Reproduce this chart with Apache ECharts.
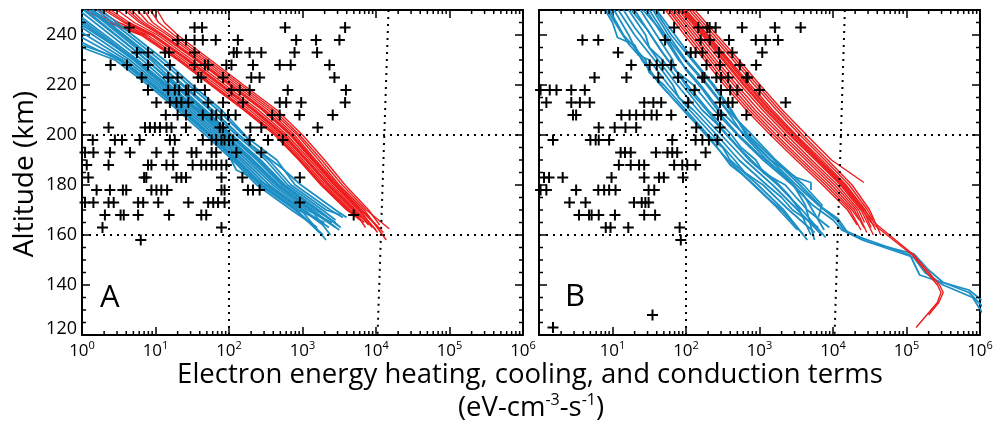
<!DOCTYPE html>
<html><head><meta charset="utf-8">
<script src="https://cdn.jsdelivr.net/npm/echarts@6/dist/echarts.min.js"></script>
<style>html,body{margin:0;padding:0;background:#fff}#c{width:1008px;height:425px}</style>
</head><body><div id="c"></div>
<script>
// ---------- tick values ----------
const altTicks = [120,140,160,180,200,220,240];
const altMinorTicks = [125,130,135,145,150,155,165,170,175,185,190,195,205,210,215,225,230,235,245];
const decadeTicks = [1,10,100,1000,10000,100000,1000000];
const logMinorTicks = [2,3,4,5,6,7,8,9,20,30,40,50,60,70,80,90,200,300,400,500,600,700,800,900,
  2e3,3e3,4e3,5e3,6e3,7e3,8e3,9e3,2e4,3e4,4e4,5e4,6e4,7e4,8e4,9e4,2e5,3e5,4e5,5e5,6e5,7e5,8e5,9e5];

// ---------- panel A : crosses (rows of altitude, x values) ----------
const crossAltsA = [243,238,233,228,223,218,213,208,203,198,193,188,183,178,173,168,163,158];
const crossXA = [
 [4.4,34,43,580,3800],
 [20,26,34,44,66,132,820,1530,3180],
 [5.6,7.9,13.5,15.3,34,116,128,191,275,780,1580],
 [2.45,4.1,7.9,15.7,34,47,52,92,108,212,490,690,2330],
 [6.5,14.9,20,38,42,83,201,261,2720],
 [7.9,14.9,18.3,21,26,28,34,47,108,140,191,630,3900],
 [10.3,15.7,19.3,22.5,28,52,83,155,490,600,960,3800],
 [13.8,20,26,44,58,67,79,97,123,387,490,910,2580],
 [2.3,7.2,8.4,9.8,11.5,14.1,16.5,26,75,83,195,275,1610],
 [1.4,2.8,3.5,6.1,15.7,18.3,44,58,67,79,87,100,113,191,340,540],
 [1.1,1.43,2.4,4.5,10.3,17.4,31,36,58,67,126,275],
 [1.16,2.3,7.9,8.8,14.1,17.4,32,42,49,58,67,79,92],
 [1.22,7.0,7.5,19.3,22.5,26,79,152,920],
 [1.58,2.4,3.6,4.0,8.8,10.3,12,14.4,79,87,181,212,261],
 [1.1,1.43,2.3,2.7,5.8,6.8,10.9,28,52,61,71,87,920],
 [2.05,3.35,3.7,5.8,15.3,42,49,4970],
 [1.9,79],
 [6.3]
];

// ---------- panel B : crosses ----------
const crossAltsB = [243,238,233,228,223,218,213,208,203,198,193,188,183,178,173,168,163,158,128,123];
const crossXB = [
 [69,147,195,210,253,580,1620,3630],
 [3.9,6.4,52,158,210,385,890,1210,1790],
 [11.9,116,135,167,281,427,1090],
 [18,32,40,48,63,190,290,540,900],
 [5.7,15.5,42,78,167,178,259,300,375,665,690],
 [1.05,1.4,1.73,2.75,4.2,131,300,400,500,1000],
 [1.26,2.75,3.6,4.9,27,36,46,107,290,375,430,2270],
 [2.9,3.2,13.2,17.1,21,27,34,40,63,272,300,665],
 [6.5,10.7,15,21,138,290],
 [1.55,5.0,5.9,6.5,9.0,65,135,167,205,267],
 [12.9,14.8,17.7,39,56,65,76,185],
 [12.2,17.7,23,27,69,89,104,135],
 [1.17,1.37,2.1,9.7,27,43,50,91],
 [1.05,1.26,3.2,6.4,7.7,9.0,11,31,37],
 [2.6,4.3,19.6,25,28,31],
 [3.5,4.8,5.2,6.5,10.8,27,38],
 [8.1,9.4,16.4,82],
 [85],
 [35],
 [1.55]
];

// ---------- panel A : red profiles ----------
const redAltsA = [250,245,240,230,220,210,200,190,180,170];
const redXA = [
 [1.1,2.24,6.3,20,56,158,417,890,1780,3980],
 [1.22,2.4,6.7,21,59,166,437,920,1850,4100],
 [1.35,2.63,7.1,21.9,61.7,174,457,955,1910,4270],
 [1.66,3.16,7.76,24,67.6,191,490,1020,2040,4470],
 [2.0,3.72,8.71,26.3,74.1,209,525,1100,2190,4790],
 [2.2,4.0,9.1,27.5,78,219,550,1140,2260,4950],
 [2.45,4.37,9.55,28.8,81.3,229,575,1170,2340,5130],
 [3.02,5.13,10.7,31.6,89.1,251,617,1260,2510,5370],
 [3.8,6.03,11.7,35.5,100,282,676,1350,2690,5750],
 [4.2,6.5,12.3,37,105,295,700,1400,2780,5950],
 [4.68,7.08,12.9,38.9,110,309,724,1450,2880,6170],
 [5.62,7.94,14.5,42.7,120,339,776,1510,3020,6460],
 [6.92,9.12,15.8,46.8,132,372,851,1660,3160,6920],
 [8.51,11,17.8,51.3,145,407,912,1820,3470,7410],
 [10.5,13.2,20,56.2,158,447,1000,2000,3800,7940]
];
const redEndA = [[5620,167],[6000,166],[6310,166],[6920,165],[6310,167],[7200,163],[7940,164],[8910,163],[10000,162],[10500,161],[11200,162.5],[12600,161],[13800,158],[15100,162.5],[11200,164]];

// ---------- panel A : blue profiles ([x, altitude] pairs) ----------
const blueA = [
 [[1,235],[2.82,230],[7.94,220],[20,210],[47.9,200],[112,190],[240,180],[708,170],[1585,163]],
 [[1,236],[3.0,231],[4.2,228],[9.2,220],[23,210],[55,200],[126,190],[275,180],[832,170],[1700,161]],
 [[1,237],[3.16,230],[8.71,220],[21.9,210],[52.5,200],[120,190],[263,180],[794,170],[1905,160]],
 [[1,239],[3.55,230],[9.55,220],[24,210],[57.5,200],[132,190],[288,180],[871,170],[1995,165]],
 [[1,241],[3.98,230],[10.5,220],[26.3,210],[63.1,200],[145,190],[316,180],[955,170],[2090,158]],
 [[1,243],[4.47,230],[11.5,220],[28.8,210],[69.2,200],[158,190],[355,180],[1047,170],[2290,163]],
 [[1,244],[5.4,230],[12,222],[16,219],[36,210],[87,200],[200,190],[457,180],[1318,170],[2400,160]],
 [[1,245],[5.01,230],[12.6,220],[31.6,210],[75.9,200],[174,190],[398,180],[1148,170],[2512,165]],
 [[1,247],[5.75,230],[14.1,220],[34.7,210],[83.2,200],[191,190],[437,180],[1259,170],[2818,163]],
 [[1,249],[6.61,230],[15.8,220],[38,210],[91.2,200],[214,190],[479,180],[1380,170],[3162,162]],
 [[1.05,250],[6.3,232],[9,228],[19,220],[45,210],[105,200],[250,190],[550,180],[1580,170],[3000,164]],
 [[1.12,250],[7.59,230],[17.8,220],[42.7,210],[100,200],[240,190],[525,180],[1514,170],[2818,165]],
 [[1.26,250],[8.71,230],[20,220],[47.9,210],[110,200],[269,190],[575,180],[1660,170],[3311,163]],
 [[1.35,250],[9.5,230],[24,220],[60,210],[138,200],[350,190],[700,180],[2100,170],[3300,168]],
 [[1.41,250],[10,230],[22.9,220],[55,210],[126,200],[316,190],[631,180],[1862,170],[2818,166]],
 [[1.6,250],[11.5,230],[28.2,220],[70.8,210],[158,200],[447,190],[794,180],[2399,170],[3548,167]],
 [[1,246],[5.25,230],[13.5,220],[39.8,210],[100,200],[105,195],[107,190],[126,186],[331,180],[1000,170],[1905,164]],
 [[1.8,250],[13.2,230],[31.6,220],[79.4,210],[166,200],[200,196],[513,187],[955,180],[2818,170],[3981,167]]
];

// ---------- panel B : red profiles ----------
const redAltsB = [250,240,230,220,210,200,190,180,170];
const redXB = [
 [52.5,95.5,178,331,661,1410,3160,7240,15800],
 [57.5,105,195,363,724,1550,3470,7940,17000],
 [61.7,115,214,398,794,1700,3800,8710,18200],
 [67.6,126,234,447,871,1910,4270,9550,19500],
 [72.4,138,257,490,977,2090,4680,10500,20900],
 [79.4,151,288,550,1100,2340,5130,11500,22400],
 [85.1,166,316,603,1200,2570,5750,12600,24000],
 [93.3,182,355,676,1350,2880,6310,13800,25700],
 [100,200,389,759,1510,3160,7080,15100,27500],
 [110,219,437,851,1700,3550,7760,16600,29500],
 [120,240,479,933,1860,3890,8510,18200,31600]
];
const redEndB = [[21400,164],[24000,162],[22900,166],[26300,163],[28800,161],[26900,165],[35500,160],[33100,163],[38000,162],[35500,166],[44700,160]];
const redExtraB = [
 [[132,250],[263,240],[525,230],[1020,220],[2040,210],[4370,200],[9550,190],[26300,181]],
 [[89.1,250],[174,240],[331,230],[631,220],[1260,210],[2690,200],[6030,190],[13200,180],[25100,170],[33100,165],[120000,152],[263000,140],[295000,137],[263000,133],[135000,123]],
 [[97.7,250],[191,240],[372,230],[708,220],[1410,210],[3020,200],[6610,190],[14500,180],[26900,170],[36300,165],[126000,152],[282000,140],[316000,137],[275000,133],[200000,128]]
];

// ---------- panel B : blue profiles ----------
const blueB = [
 [[7.94,250],[10,245],[11.7,239],[20,236],[25.1,230],[44.7,220],[93.3,210],[186,200],[372,190],[832,180],[1260,175],[2000,170],[3980,160]],
 [[8.5,250],[12.5,242],[17,236],[26,230],[40,222],[60,216],[105,208],[170,202],[251,196],[400,188],[600,184],[1000,178],[1600,172],[3300,162]],
 [[9.12,250],[14.1,240],[28.2,230],[31.6,225],[50.1,220],[100,210],[200,200],[316,195],[398,190],[955,180],[2140,170],[4470,158]],
 [[10.5,250],[16.6,240],[22.4,232],[31.6,230],[57.5,220],[112,210],[229,200],[457,190],[631,185],[1120,180],[2510,170],[5620,161]],
 [[12,250],[20,240],[37.2,230],[66.1,220],[79.4,215],[126,210],[263,200],[525,190],[1260,180],[2000,175],[2820,170],[6310,163]],
 [[14.1,250],[20,243],[24,240],[41.7,230],[75.9,220],[145,210],[302,200],[631,190],[1510,180],[3310,170],[7080,160]],
 [[16.6,250],[28.2,240],[31.6,235],[47.9,230],[89.1,220],[166,210],[251,205],[355,200],[724,190],[1780,180],[3800,170],[7940,159]],
 [[18,250],[30,242],[45,234],[72,226],[110,218],[190,210],[320,202],[560,194],[900,188],[1600,182],[2500,176],[3500,170],[5000,160]],
 [[20,250],[33.1,240],[56.2,230],[105,220],[200,210],[417,200],[562,195],[891,190],[1120,185],[2240,180],[4470,170],[8910,163]],
 [[24,250],[39.8,240],[66.1,230],[70.8,226],[126,220],[240,210],[501,200],[1120,190],[2820,180],[3980,176],[5250,170],[7590,162]],
 [[26,250],[45,242],[62,236],[100,226],[170,218],[300,208],[520,200],[1000,192],[1800,186],[2900,180],[4200,172],[5600,158]],
 [[28.8,250],[47.9,240],[79.4,230],[158,220],[288,210],[631,200],[1410,190],[3160,183],[5010,181],[5010,178]],
 [[35.5,250],[57.5,240],[100,230],[200,220],[363,210],[794,200],[1660,190],[3980,180],[7080,172],[6310,167]],
 [[39.8,250],[70.8,240],[126,230],[240,220],[417,210],[661,200],[1410,190],[3160,180],[6310,172],[11200,166],[14100,162],[24000,159],[112000,152],[151000,144],[240000,142],[708000,138],[1050000,134]],
 [[38,250],[63.1,240],[120,230],[229,220],[398,210],[708,200],[1590,190],[3550,180],[7080,171],[11700,166.5],[15800,161],[31600,157],[126000,152.5],[200000,146],[316000,141],[708000,137],[1120000,131]],
 [[31.6,250],[52.5,240],[95.5,230],[191,220],[355,210],[603,200],[1260,190],[2820,180],[5250,172],[10000,166],[13200,162],[25100,158],[126000,151],[178000,145],[316000,140],[794000,135],[1070000,129]]
];

// ---------- dotted guide lines ----------
const guideAlts = [160, 200];
const guideXLow = 100;
const guideSlantA = [[14800, 250], [10500, 120]];
const guideSlantB = [[14500, 250], [10500, 120]];

// ---------- build ----------
const FONT = 'Open Sans';
const RED = '#ee1c1c', BLUE = '#1d8fc4';
const CROSS = 'path://M0,4.1L10,4.1L10,5.9L0,5.9Z M4.1,0L5.9,0L5.9,10L4.1,10Z';

const series = [];
function addLine(g, pts, color, width) {
  series.push({type:'line', xAxisIndex:g*2, yAxisIndex:g*2, data:pts, showSymbol:false, symbol:'none',
    silent:true, animation:false, lineStyle:{color:color, width:width}, z:2});
}
redXA.forEach((xs,i)=> addLine(0, xs.map((x,j)=>[x, redAltsA[j]]).concat([redEndA[i]]), RED, 1.4));
blueA.forEach(p => addLine(0, p, BLUE, 1.8));
blueB.forEach(p => addLine(1, p, BLUE, 1.8));
redXB.forEach((xs,i)=> addLine(1, xs.map((x,j)=>[x, redAltsB[j]]).concat([redEndB[i]]), RED, 1.4));
redExtraB.forEach(p => addLine(1, p, RED, 1.4));

function crossData(alts, xs) {
  const out = [];
  alts.forEach((a,i)=> xs[i].forEach(x => out.push([x, a])));
  return out;
}
function guides(slant) {
  return {silent:true, symbol:['none','none'], animation:false, label:{show:false},
    lineStyle:{color:'#000', width:2, type:[2,5]},
    data: guideAlts.map(a=>({yAxis:a})).concat([{xAxis:guideXLow}, [{coord:slant[0]},{coord:slant[1]}]])};
}
[[crossAltsA, crossXA, guideSlantA],[crossAltsB, crossXB, guideSlantB]].forEach((d,g)=>{
  series.push({type:'scatter', xAxisIndex:g*2, yAxisIndex:g*2, data:crossData(d[0], d[1]),
    symbol:CROSS, symbolSize:11, itemStyle:{color:'#000', opacity:1}, silent:true, animation:false, z:3,
    markLine: guides(d[2])});
  series.push({type:'custom', xAxisIndex:g*2, yAxisIndex:g*2, data:logMinorTicks.map(v=>[v,250]), silent:true, clip:false, z:5,
    renderItem:(p, api)=>{ const v = api.value(0); const b = api.coord([v,120]); const t = api.coord([v,250]);
      return {type:'group', children:[
        {type:'line', shape:{x1:b[0],y1:b[1],x2:b[0],y2:b[1]-4}, style:{stroke:'#000', lineWidth:1.5}},
        {type:'line', shape:{x1:t[0],y1:t[1],x2:t[0],y2:t[1]+4}, style:{stroke:'#000', lineWidth:1.5}}]}; }});
  series.push({type:'custom', xAxisIndex:g*2, yAxisIndex:g*2, data:altMinorTicks.map(v=>[1,v]), silent:true, clip:false, z:5,
    renderItem:(p, api)=>{ const v = api.value(1); const l = api.coord([1,v]); const r = api.coord([1e6,v]);
      return {type:'group', children:[
        {type:'line', shape:{x1:l[0],y1:l[1],x2:l[0]+4,y2:l[1]}, style:{stroke:'#000', lineWidth:1.5}},
        {type:'line', shape:{x1:r[0],y1:r[1],x2:r[0]-4,y2:r[1]}, style:{stroke:'#000', lineWidth:1.5}}]}; }});
});

function xAxisDef(g, pos, showLabel, hideFirst) {
  return {gridIndex:g, type:'log', logBase:10, min:1, max:1e6, splitNumber:6, position:pos,
    axisLine:{show:true, onZero:false, lineStyle:{color:'#000', width:2}},
    axisTick:{show:true, inside:true, length:8, lineStyle:{color:'#000', width:1.5}},
    splitLine:{show:false}, minorTick:{show:false},
    axisLabel:{show:showLabel, margin:5, hideOverlap:false, color:'#000',
      formatter:(v)=>{ const e = Math.round(Math.log10(v)); if (hideFirst && e===0) return ''; return '{b|10}{e|'+e+'}'; },
      rich:{b:{fontSize:17, fontFamily:FONT, color:'#000', lineHeight:22},
            e:{fontSize:11, fontFamily:FONT, color:'#000', verticalAlign:'top', lineHeight:12}}}};
}
function yAxisDef(g, pos, showLabel) {
  return {gridIndex:g, type:'value', min:120, max:250, interval:20, position:pos,
    axisLine:{show:true, onZero:false, lineStyle:{color:'#000', width:2}},
    axisTick:{show:true, inside:true, length:8, lineStyle:{color:'#000', width:1.5}},
    splitLine:{show:false}, minorTick:{show:false},
    axisLabel:{show:showLabel, margin:5, color:'#000', fontSize:18, fontFamily:FONT,
      formatter:(v)=> v===120 ? '{lo|120}' : (altTicks.indexOf(v)>=0 ? String(v) : ''),
      rich:{lo:{fontSize:18, fontFamily:FONT, color:'#000', padding:[0,0,12,0]}}}};
}

const option = {
  animation:false,
  textStyle:{fontFamily:FONT},
  grid:[
    {left:82, top:10, width:441, height:325, containLabel:false, outerBoundsMode:'none'},
    {left:539, top:10, width:441, height:325, containLabel:false, outerBoundsMode:'none'}
  ],
  xAxis:[xAxisDef(0,'bottom',true,false), xAxisDef(0,'top',false,false), xAxisDef(1,'bottom',true,true), xAxisDef(1,'top',false,false)],
  yAxis:[yAxisDef(0,'left',true), yAxisDef(0,'right',false), yAxisDef(1,'left',false), yAxisDef(1,'right',false)],
  series: series,
  graphic:[
    {type:'text', x:100, y:298, style:{text:'A', fontSize:31, fontFamily:FONT, fill:'#000', verticalAlign:'middle'}},
    {type:'text', x:565, y:297, style:{text:'B', fontSize:31, fontFamily:FONT, fill:'#000', verticalAlign:'middle'}},
    {type:'text', x:25, y:174, rotation:Math.PI/2, style:{text:'Altitude (km)', fontSize:28, fontFamily:FONT, fill:'#000', align:'center', verticalAlign:'middle'}},
    {type:'text', x:530, y:375, style:{text:'Electron energy heating, cooling, and conduction terms', fontSize:27.5, fontFamily:FONT, fill:'#000', align:'center', verticalAlign:'middle'}},
    {type:'text', x:531, y:408, style:{text:'{n|(eV-cm}{s|-3}{n|-s}{s|-1}{n|)}', align:'center', verticalAlign:'middle',
      rich:{n:{fontSize:27.5, fontFamily:FONT, fill:'#000', lineHeight:32}, s:{fontSize:16, fontFamily:FONT, fill:'#000', verticalAlign:'top', lineHeight:16}}}}
  ]
};
const chart = echarts.init(document.getElementById('c'), null, {renderer:'canvas'});
chart.setOption(option);
</script></body></html>
